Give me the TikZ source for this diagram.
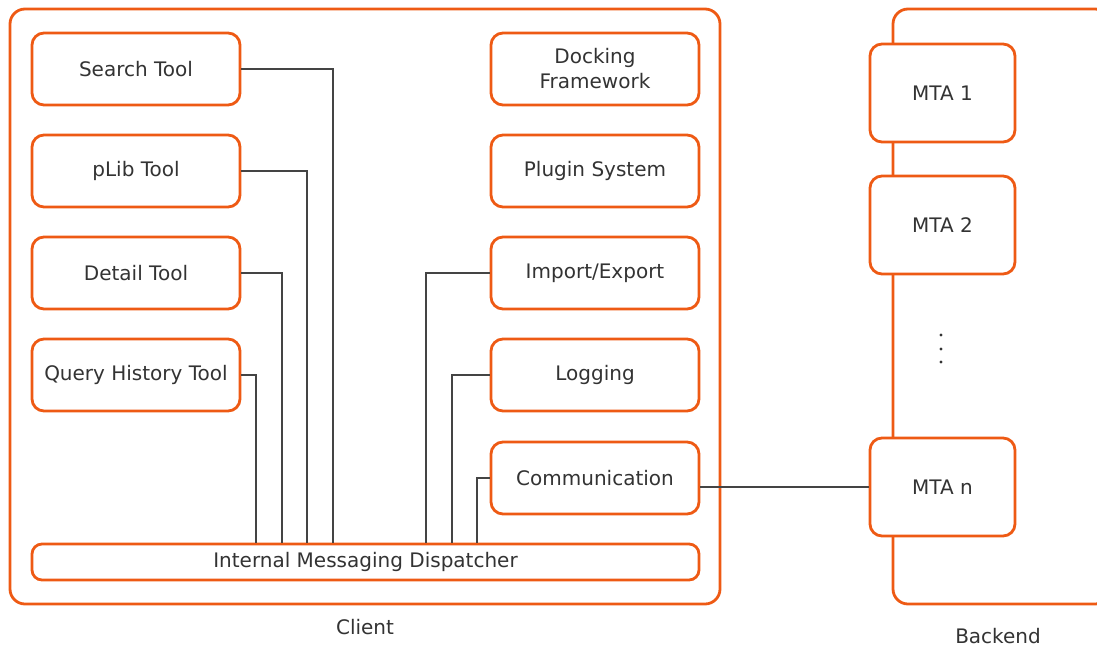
\documentclass[tikz,border=0pt]{standalone}
\usepackage{fontspec}
\setmainfont{DejaVu Sans}
\definecolor{accent}{HTML}{EE5A14}
\definecolor{ink}{HTML}{333333}
\definecolor{wire}{HTML}{444444}
\tikzset{
  frame/.style={draw=accent, line width=2.8pt, rounded corners=15pt},
  comp/.style={draw=accent, line width=2.8pt, rounded corners=12pt, fill=white,
    minimum width=208pt, minimum height=72pt, align=center, text=ink,
    font=\fontsize{20}{25}\selectfont, inner sep=0pt},
  mta/.style={comp, minimum width=145pt, minimum height=98pt},
  bus/.style={comp, minimum width=667pt, minimum height=36pt, rounded corners=10pt},
  caption/.style={text=ink, font=\fontsize{20}{25}\selectfont},
  link/.style={draw=wire, line width=1.3pt},
  dot/.style={circle, fill=ink, inner sep=0pt, minimum size=3.2pt},
}
\begin{document}
\begin{tikzpicture}[x=1pt, y=-1pt]
\useasboundingbox (0,0) rectangle (1097,651);
% outer containers
\draw[frame] (10,9) rectangle (720,604);
\draw[frame] (893,9) rectangle (1110,604);
\node[caption] (clientlbl) at (365,627) {Client};
\node[caption] (backendlbl) at (998,636) {Backend};
% client tools (left column)
\node[comp] (search) at (136,69) {Search Tool};
\node[comp] (plib) at (136,171) {pLib Tool};
\node[comp] (detail) at (136,273) {Detail Tool};
\node[comp] (query) at (136,375) {Query History Tool};
% client services (right column)
\node[comp] (dock) at (595,69) {Docking\\Framework};
\node[comp] (plugin) at (595,171) {Plugin System};
\node[comp] (impexp) at (595,273) {Import/Export};
\node[comp] (logging) at (595,375) {Logging};
\node[comp] (comm) at (595,478) {Communication};
% dispatcher
\node[bus] (disp) at (365.5,562) {Internal Messaging Dispatcher};
% backend message transfer agents
\node[mta] (mta1) at (942.5,93) {MTA 1};
\node[mta] (mta2) at (942.5,225) {MTA 2};
\node[mta] (mtan) at (942.5,487) {MTA n};
\node[dot] (dot1) at (941,335) {};
\node[dot] (dot2) at (941,349) {};
\node[dot] (dot3) at (941,362) {};
% connectors to the dispatcher
\draw[link] (search.east) -| (disp.north -| 333,0);
\draw[link] (plib.east) -| (disp.north -| 307,0);
\draw[link] (detail.east) -| (disp.north -| 282,0);
\draw[link] (query.east) -| (disp.north -| 256,0);
\draw[link] (impexp.west) -| (disp.north -| 426,0);
\draw[link] (logging.west) -| (disp.north -| 452,0);
\draw[link] (comm.west) -| (disp.north -| 477,0);
% client to backend
\draw[link] (comm.east |- 0,487) -- (mtan.west);
\end{tikzpicture}
\end{document}
